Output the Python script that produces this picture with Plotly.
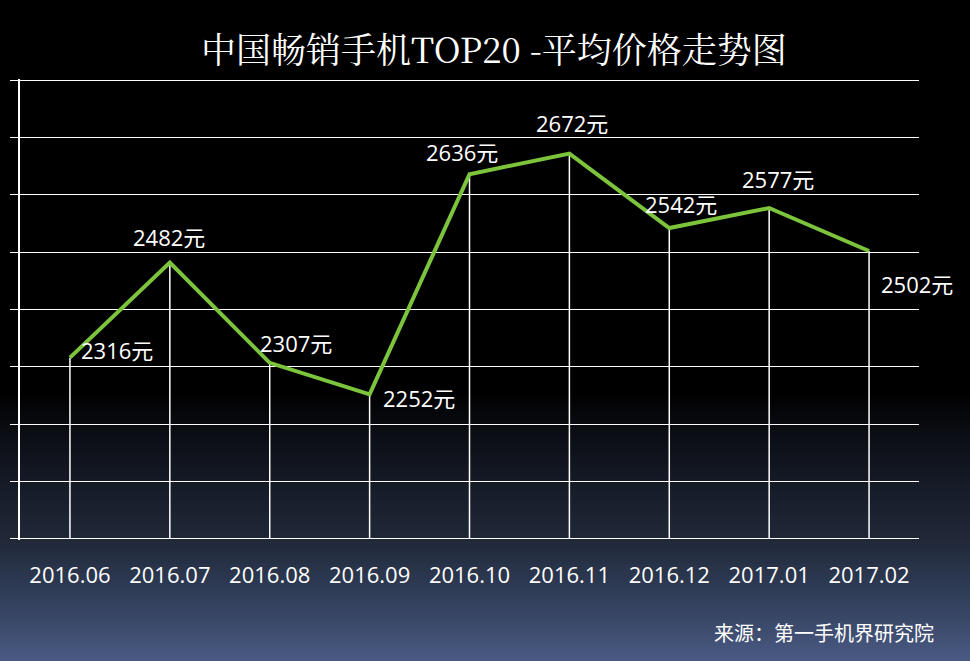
import plotly.graph_objects as go

months = ["2016.06", "2016.07", "2016.08", "2016.09", "2016.10",
          "2016.11", "2016.12", "2017.01", "2017.02"]
prices = [2316, 2482, 2307, 2252, 2636, 2672, 2542, 2577, 2502]
label_suffix = "元"
title_text = "中国畅销手机TOP20 -平均价格走势图"
source_text = "来源：第一手机界研究院"

# label offsets (pixels) relative to each point
label_dx = [47, -1, 26, 49, -8, 3, 12, 9, 48]
label_dy = [8, 25, 20, -4, 22, 31, 24, 29, -33]

W, H = 970, 661
ML, MR, MT, MB = 15, 51, 79, 121
YMIN, YMAX = 1998, 2802

fig = go.Figure()

# vertical drop lines from each point to the baseline
dx, dy = [], []
for m, p in zip(months, prices):
    dx += [m, m, None]
    dy += [2000, p, None]
fig.add_trace(go.Scatter(x=dx, y=dy, mode="lines",
                         line=dict(color="white", width=1.5),
                         hoverinfo="skip", showlegend=False))

fig.add_trace(go.Scatter(x=months, y=prices, mode="lines",
                         line=dict(color="#7cc43c", width=4),
                         showlegend=False))

for i, (p, ddx, ddy) in enumerate(zip(prices, label_dx, label_dy)):
    fig.add_annotation(x=i, y=p, xref="x", yref="y",
                       text=f"{p}{label_suffix}", showarrow=False,
                       xshift=ddx, yshift=ddy,
                       font=dict(family="Open Sans, Noto Sans CJK SC", size=22, color="white"))

# background gradient (bottom portion)
stops = [(390, (0, 0, 0)), (424, (9, 11, 16)), (482, (21, 26, 38)),
         (539, (32, 40, 56)), (580, (44, 56, 80)), (620, (58, 72, 104)),
         (661, (74, 90, 133))]
PH = H - MT - MB
shapes = []
step = 3
y = stops[0][0]
while y < H:
    yc = y + step / 2
    c = list(stops[-1][1])
    for i in range(len(stops) - 1):
        if stops[i][0] <= yc <= stops[i + 1][0]:
            t = (yc - stops[i][0]) / (stops[i + 1][0] - stops[i][0])
            c = [round(stops[i][1][k] + t * (stops[i + 1][1][k] - stops[i][1][k])) for k in range(3)]
            break
    shapes.append(dict(type="rect", xref="paper", yref="paper",
                       x0=-ML / (W - ML - MR) - 0.01, x1=1 + MR / (W - ML - MR) + 0.01,
                       y0=(H - MB - (y + step + 0.5)) / PH, y1=(H - MB - y) / PH,
                       line=dict(width=0), fillcolor=f"rgb({c[0]},{c[1]},{c[2]})",
                       layer="below"))
    y += step

fig.update_layout(
    width=W, height=H,
    margin=dict(l=ML, r=MR, t=MT, b=MB),
    paper_bgcolor="black", plot_bgcolor="rgba(0,0,0,0)",
    shapes=shapes,
    xaxis=dict(type="category", range=[-0.5, len(months) - 0.5],
               showgrid=False, zeroline=False, showline=False,
               ticks="outside", ticklen=16, tickcolor="rgba(0,0,0,0)",
               tickfont=dict(family="Open Sans", size=22, color="white")),
    yaxis=dict(range=[YMIN, YMAX], tick0=2000, dtick=100, showgrid=True,
               gridcolor="white", gridwidth=1, zeroline=False,
               showline=True, linecolor="white", linewidth=1.5,
               ticks="outside", ticklen=8, tickcolor="white", tickwidth=1,
               showticklabels=False),
    showlegend=False,
)

fig.add_annotation(xref="paper", yref="paper",
                   x=(492 - ML) / (W - ML - MR), y=(H - MB - 48) / PH,
                   text=title_text, showarrow=False, xanchor="center", yanchor="middle",
                   font=dict(family="Noto Serif CJK SC, Noto Sans CJK SC", size=35, color="white"))
fig.add_annotation(xref="paper", yref="paper",
                   x=(936 - ML) / (W - ML - MR), y=(H - MB - 632) / PH,
                   text=source_text, showarrow=False, xanchor="right", yanchor="middle",
                   font=dict(family="Noto Sans CJK SC", size=20, color="white"))

fig.write_html("out.html")
